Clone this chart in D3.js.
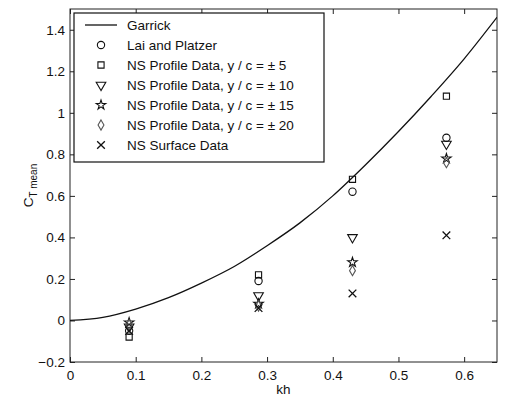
<!DOCTYPE html>
<html>
<head>
<meta charset="utf-8">
<script src="https://cdn.jsdelivr.net/npm/d3@7"></script>
<style>
  body { margin: 0; background: #fff; }
  text { font-family: "Liberation Sans", Arial, sans-serif; fill: #111; }
</style>
</head>
<body>
<div id="chart"></div>
<script>
// values
var khPoints = [0.09, 0.287, 0.43, 0.573];
var laiPlatzer = [-0.05, 0.19, 0.62, 0.88];
var nsProfile5 = [-0.08, 0.22, 0.68, 1.08];
var nsProfile10 = [-0.03, 0.12, 0.40, 0.85];
var nsProfile15 = [-0.01, 0.08, 0.28, 0.78];
var nsProfile20 = [-0.02, 0.07, 0.24, 0.76];
var nsSurface = [-0.05, 0.06, 0.13, 0.41];

var garrickKh = [0, 0.05, 0.1, 0.15, 0.2, 0.25, 0.3, 0.35, 0.4, 0.45, 0.5, 0.55, 0.6, 0.65];
var garrickCt = [0, 0.015, 0.055, 0.11, 0.18, 0.26, 0.36, 0.47, 0.60, 0.75, 0.91, 1.08, 1.26, 1.46];

var xTicks = [0, 0.1, 0.2, 0.3, 0.4, 0.5, 0.6];
var yTicks = [-0.2, 0, 0.2, 0.4, 0.6, 0.8, 1, 1.2, 1.4];

var legendLabels = ["Garrick", "Lai and Platzer", "NS Profile Data, y / c = \u00b1 5",
  "NS Profile Data, y / c = \u00b1 10", "NS Profile Data, y / c = \u00b1 15",
  "NS Profile Data, y / c = \u00b1 20", "NS Surface Data"];

var W = 509, H = 398;
var margin = { top: 9, left: 70, right: 12, bottom: 36 };
var width = W - margin.left - margin.right,
    height = H - margin.top - margin.bottom;

var svg = d3.select("#chart").append("svg")
    .attr("width", W).attr("height", H)
    .append("g")
    .attr("transform", "translate(" + margin.left + "," + margin.top + ")");

var x = d3.scaleLinear().domain([0, 0.65]).range([0, width]);
var y = d3.scaleLinear().domain([-0.2, 1.5]).range([height, 0]);

var fmt = function(d) { return d3.format("")(+d.toFixed(2)); };

// axes, MATLAB style: ticks inward on all sides
svg.append("g").attr("transform", "translate(0," + height + ")")
    .call(d3.axisBottom(x).tickValues(xTicks).tickSizeInner(-5).tickSizeOuter(0).tickPadding(8).tickFormat(fmt));
svg.append("g")
    .call(d3.axisTop(x).tickValues(xTicks).tickSizeInner(-5).tickSizeOuter(0).tickFormat(""));
svg.append("g")
    .call(d3.axisLeft(y).tickValues(yTicks).tickSizeInner(-5).tickSizeOuter(0).tickPadding(5).tickFormat(fmt));
svg.append("g").attr("transform", "translate(" + width + ",0)")
    .call(d3.axisRight(y).tickValues(yTicks).tickSizeInner(-5).tickSizeOuter(0).tickFormat(""));

svg.selectAll(".domain").remove();
svg.selectAll(".tick line").attr("stroke", "#222");
svg.selectAll(".tick text").style("font-size", "13.5px").attr("fill", "#111");

svg.append("rect").attr("width", width).attr("height", height)
    .attr("fill", "none").attr("stroke", "#222").attr("stroke-width", 1);

// axis labels
svg.append("text").attr("x", width / 2).attr("y", height + 32)
    .attr("text-anchor", "middle").style("font-size", "13.5px").text("kh");

var yl = svg.append("text")
    .attr("transform", "translate(-37," + (height / 2) + ") rotate(-90)")
    .attr("text-anchor", "middle").style("font-size", "13.5px");
yl.append("tspan").text("C");
yl.append("tspan").attr("dy", 4).style("font-size", "10px").text("T mean");

// Garrick curve
var line = d3.line()
    .x(function(d, i) { return x(garrickKh[i]); })
    .y(function(d) { return y(d); })
    .curve(d3.curveMonotoneX);

svg.append("defs").append("clipPath").attr("id", "clip")
    .append("rect").attr("width", width).attr("height", height);

svg.append("path").datum(garrickCt)
    .attr("clip-path", "url(#clip)")
    .attr("d", line).attr("fill", "none")
    .attr("stroke", "#111").attr("stroke-width", 1.3);

// marker shapes
var markers = {
  circle: d3.symbol().type(d3.symbolCircle).size(42),
  square: d3.symbol().type(d3.symbolSquare).size(38),
  tri: d3.symbol().type(d3.symbolTriangle).size(40),
  star: d3.symbol().type(d3.symbolStar).size(28),
  diamond: d3.symbol().type(d3.symbolDiamond).size(30),
  cross: d3.symbol().type(d3.symbolTimes).size(40)
};

var series = [
  { vals: laiPlatzer, m: "circle", rot: 0 },
  { vals: nsProfile5, m: "square", rot: 0 },
  { vals: nsProfile10, m: "tri", rot: 180 },
  { vals: nsProfile15, m: "star", rot: 0 },
  { vals: nsProfile20, m: "diamond", rot: 0, light: true },
  { vals: nsSurface, m: "cross", rot: 0 }
];

function drawMarker(sel, s) {
  sel.attr("d", markers[s.m]())
     .attr("fill", "none")
     .attr("stroke", s.light ? "#555" : "#111")
     .attr("stroke-width", s.m === "cross" ? 1.3 : 1.1);
}

series.forEach(function(s) {
  svg.append("g").selectAll("path")
    .data(s.vals).enter().append("path")
    .attr("transform", function(d, i) {
      return "translate(" + x(khPoints[i]) + "," + y(d) + ") rotate(" + s.rot + ")";
    })
    .call(drawMarker, s);
});

// legend
var lg = svg.append("g").attr("transform", "translate(4,4)");
var rowH = 20;
lg.append("rect").attr("width", 250).attr("height", 149)
    .attr("fill", "#fff").attr("stroke", "#111").attr("stroke-width", 1.2);

legendLabels.forEach(function(lab, i) {
  var cy = 12 + i * rowH;
  if (i === 0) {
    lg.append("line").attr("x1", 11).attr("x2", 43).attr("y1", cy).attr("y2", cy)
      .attr("stroke", "#111").attr("stroke-width", 1.3);
  } else {
    var s = series[i - 1];
    lg.append("path")
      .attr("transform", "translate(27," + cy + ") rotate(" + s.rot + ")")
      .call(drawMarker, s);
  }
  lg.append("text").attr("x", 53).attr("y", cy + 5)
    .style("font-size", "13.5px").text(lab);
});
</script>
</body>
</html>
